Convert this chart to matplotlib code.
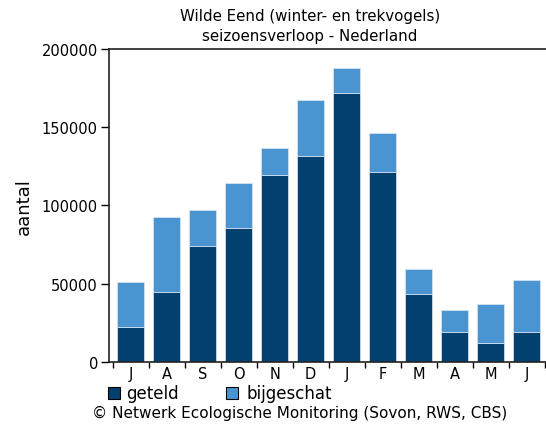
import matplotlib
matplotlib.use("Agg")
import numpy as np
import matplotlib.pyplot as plt
from matplotlib.patches import Rectangle

# data
months = ["J", "A", "S", "O", "N", "D", "J", "F", "M", "A", "M", "J"]
geteld = [22200, 44500, 74300, 85400, 119500, 131400, 171700, 121400, 43200, 19400, 12400, 19400]
totaal = [51300, 92400, 97300, 114400, 136500, 167400, 187600, 146300, 59400, 33200, 37300, 52200]
bijgeschat = [t - g for t, g in zip(totaal, geteld)]

dark = "#02406f"
light = "#4a95d1"

fig = plt.figure(figsize=(5.46, 4.27), dpi=100)
ax = fig.add_axes([109 / 546, 1 - 363 / 427, 437 / 546, 313 / 427])

x = np.arange(len(months))
ax.bar(x, geteld, width=0.74, color=dark, edgecolor="#dde8f2", linewidth=0.5)
ax.bar(x, bijgeschat, bottom=geteld, width=0.74, color=light, edgecolor="#dde8f2", linewidth=0.5)

ax.set_xlim(-0.6, 11.54)
ax.set_ylim(0, 200000)
ax.set_yticks([0, 50000, 100000, 150000, 200000])
ax.set_yticklabels(["0", "50000", "100000", "150000", "200000"], fontsize=10.5)

# month labels centred on bars, ticks between bars
ax.set_xticks(x)
ax.set_xticklabels(months, fontsize=10.5)
ax.tick_params(axis="x", length=0, pad=3)
ax.set_xticks(np.arange(-0.5, 12, 1), minor=True)
ax.tick_params(axis="x", which="minor", length=4, width=1, direction="out")
ax.tick_params(axis="y", length=6, width=1, direction="out", pad=2)

for s in ["left", "bottom", "top"]:
    ax.spines[s].set_linewidth(1.2)
    ax.spines[s].set_color("#222222")
ax.spines["right"].set_visible(False)

ax.set_ylabel("aantal", fontsize=13, labelpad=6)

fig.text(310 / 546, 1 - 16 / 427, "Wilde Eend (winter- en trekvogels)", ha="center", va="center", fontsize=10.8)
fig.text(310 / 546, 1 - 37 / 427, "seizoensverloop - Nederland", ha="center", va="center", fontsize=10.8)

# legend
fig.patches.append(Rectangle((108 / 546, 1 - 400 / 427), 12 / 546, 12 / 427,
                             transform=fig.transFigure, facecolor=dark, edgecolor="black", linewidth=0.8))
fig.text(126 / 546, 1 - 394 / 427, "geteld", ha="left", va="center", fontsize=12)
fig.patches.append(Rectangle((226 / 546, 1 - 400 / 427), 12 / 546, 12 / 427,
                             transform=fig.transFigure, facecolor=light, edgecolor="black", linewidth=0.8))
fig.text(246 / 546, 1 - 394 / 427, "bijgeschat", ha="left", va="center", fontsize=12)

fig.text(92 / 546, 1 - 413 / 427, "\u00a9 Netwerk Ecologische Monitoring (Sovon, RWS, CBS)",
         ha="left", va="center", fontsize=11)

fig.savefig("out.png", dpi=100)
